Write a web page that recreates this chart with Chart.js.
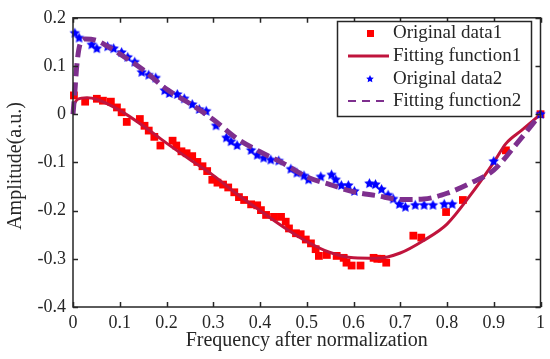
<!DOCTYPE html>
<html>
<head>
<meta charset="utf-8">
<script src="https://cdn.jsdelivr.net/npm/chart.js@4/dist/chart.umd.min.js"></script>
<style>
  html, body { margin: 0; padding: 0; background: #fff; }
  #wrap { width: 550px; height: 359px; }
</style>
</head>
<body>
<div id="wrap"><canvas id="fitChart"></canvas></div>
<script>
var data1X = [0.002,0.026,0.051,0.064,0.081,0.094,0.104,0.115,0.143,0.153,0.162,0.174,0.187,0.213,0.221,0.232,0.243,0.255,0.266,0.277,0.287,0.298,0.309,0.321,0.332,0.345,0.355,0.366,0.381,0.394,0.402,0.413,0.430,0.445,0.455,0.462,0.477,0.487,0.498,0.509,0.519,0.526,0.543,0.564,0.579,0.585,0.596,0.615,0.643,0.651,0.660,0.670,0.728,0.745,0.798,0.834,0.926,1.0];
var data1Y = [0.039,0.026,0.032,0.028,0.026,0.014,0.004,-0.016,-0.010,-0.024,-0.034,-0.047,-0.065,-0.055,-0.065,-0.077,-0.081,-0.087,-0.099,-0.108,-0.118,-0.136,-0.142,-0.146,-0.152,-0.162,-0.172,-0.178,-0.187,-0.189,-0.199,-0.209,-0.213,-0.213,-0.223,-0.237,-0.247,-0.249,-0.260,-0.268,-0.280,-0.294,-0.292,-0.294,-0.298,-0.308,-0.314,-0.314,-0.298,-0.300,-0.300,-0.308,-0.252,-0.256,-0.203,-0.178,-0.075,0.0];

var data2X = [0.004,0.013,0.040,0.051,0.074,0.087,0.104,0.117,0.132,0.147,0.162,0.177,0.196,0.206,0.223,0.238,0.255,0.270,0.285,0.306,0.328,0.338,0.351,0.381,0.394,0.408,0.423,0.440,0.466,0.479,0.494,0.504,0.530,0.553,0.562,0.574,0.589,0.602,0.634,0.647,0.660,0.674,0.685,0.698,0.711,0.732,0.751,0.770,0.794,0.811,0.900,1.0];
var data2Y = [0.168,0.158,0.144,0.136,0.140,0.136,0.128,0.118,0.108,0.087,0.081,0.075,0.049,0.043,0.041,0.032,0.020,0.010,0.006,-0.024,-0.049,-0.057,-0.065,-0.075,-0.085,-0.091,-0.095,-0.097,-0.114,-0.122,-0.128,-0.136,-0.130,-0.126,-0.136,-0.148,-0.148,-0.160,-0.144,-0.146,-0.156,-0.168,-0.176,-0.187,-0.193,-0.189,-0.189,-0.189,-0.187,-0.187,-0.098,0.0];

var fit1X = [0,0.01,0.03,0.05,0.1,0.15,0.2,0.25,0.3,0.35,0.4,0.45,0.5,0.55,0.6,0.65,0.7,0.75,0.8,0.85,0.9,0.926,0.96,1.0];
var fit1Y = [0.018,0.031,0.034,0.031,0.008,-0.024,-0.06,-0.094,-0.127,-0.165,-0.2,-0.234,-0.264,-0.287,-0.298,-0.299,-0.288,-0.262,-0.228,-0.168,-0.1,-0.061,-0.033,0.0];

var fit2X = [0,0.004,0.008,0.015,0.026,0.05,0.072,0.1,0.15,0.2,0.25,0.3,0.35,0.4,0.45,0.5,0.55,0.6,0.65,0.7,0.75,0.8,0.85,0.9,0.95,1.0];
var fit2Y = [0,0.047,0.1,0.145,0.156,0.153,0.142,0.125,0.092,0.052,0.022,-0.011,-0.05,-0.078,-0.102,-0.13,-0.146,-0.161,-0.169,-0.177,-0.176,-0.164,-0.143,-0.116,-0.06,0.0];

var xTicks = [0,0.1,0.2,0.3,0.4,0.5,0.6,0.7,0.8,0.9,1];
var yTicks = [-0.4,-0.3,-0.2,-0.1,0,0.1,0.2];

var labels = ["Original data1", "Fitting function1", "Original data2", "Fitting function2"];
var xTitle = 'Frequency after normalization';
var yTitle = 'Amplitude(a.u.)';

var inkColor = '#262626';
var serif = "'Liberation Serif', 'Times New Roman', serif";

function pairs(xs, ys) {
    return xs.map(function(x, i) { return {x: x, y: ys[i]}; });
}

// filled pentagram marker
function makeStar(r, color) {
    var c = document.createElement('canvas');
    var s = Math.ceil(r * 2 + 2);
    c.width = s; c.height = s;
    var cx = c.getContext('2d');
    cx.fillStyle = color;
    cx.beginPath();
    for (var i = 0; i < 10; i++) {
        var rad = (i % 2 === 0) ? r : r * 0.5;
        var a = -Math.PI / 2 + i * Math.PI / 5;
        var px = s / 2 + rad * Math.cos(a), py = s / 2 + rad * Math.sin(a);
        if (i === 0) cx.moveTo(px, py); else cx.lineTo(px, py);
    }
    cx.closePath();
    cx.fill();
    return c;
}
var starBig = makeStar(5.5, '#0000ff');
var starSmall = makeStar(4, '#0000ff');

// box + inward ticks, matlab style
var boxPlugin = {
    id: 'boxTicks',
    afterDatasetsDraw: function(chart) {
        var ctx = chart.ctx, a = chart.chartArea;
        var xs = chart.scales.x, ys = chart.scales.y;
        ctx.save();
        ctx.strokeStyle = inkColor;
        ctx.lineWidth = 1.5;
        ctx.strokeRect(a.left, a.top, a.right - a.left, a.bottom - a.top);
        ctx.beginPath();
        xTicks.forEach(function(v) {
            var p = Math.round(xs.getPixelForValue(v)) + 0.5;
            ctx.moveTo(p, a.bottom); ctx.lineTo(p, a.bottom - 5);
            ctx.moveTo(p, a.top); ctx.lineTo(p, a.top + 5);
        });
        yTicks.forEach(function(v) {
            var p = Math.round(ys.getPixelForValue(v)) + 0.5;
            ctx.moveTo(a.left, p); ctx.lineTo(a.left + 5, p);
            ctx.moveTo(a.right, p); ctx.lineTo(a.right - 5, p);
        });
        ctx.stroke();

        // y axis title, sits a bit below the axis middle in the original
        ctx.fillStyle = inkColor;
        ctx.font = '20px ' + serif;
        ctx.textAlign = 'center';
        ctx.textBaseline = 'middle';
        ctx.translate(16, 166);
        ctx.rotate(-Math.PI / 2);
        ctx.fillText(yTitle, 0, 0);
        ctx.restore();
    }
};

// legend box in the upper right corner
var legendPlugin = {
    id: 'boxLegend',
    afterDraw: function(chart) {
        var ctx = chart.ctx;
        var bx = 337, by = 21, bw = 194, bh = 95;
        ctx.save();
        ctx.fillStyle = '#fff';
        ctx.fillRect(bx, by, bw, bh);
        ctx.strokeStyle = inkColor;
        ctx.lineWidth = 1.5;
        ctx.strokeRect(bx + 0.5, by + 0.5, bw, bh);

        var rows = [33, 56, 79, 101];
        var mx = 370;
        // data1 marker
        ctx.fillStyle = '#ff0000';
        ctx.fillRect(mx - 3, rows[0] - 3, 7, 7);
        // fit1 line
        ctx.strokeStyle = '#c0143c';
        ctx.lineWidth = 3;
        ctx.beginPath(); ctx.moveTo(348, rows[1]); ctx.lineTo(389, rows[1]); ctx.stroke();
        // data2 marker
        ctx.drawImage(starSmall, mx - starSmall.width / 2, rows[2] - starSmall.height / 2);
        // fit2 line
        ctx.strokeStyle = '#7e2f8e';
        ctx.lineWidth = 2;
        ctx.setLineDash([8, 6]);
        ctx.beginPath(); ctx.moveTo(348, rows[3]); ctx.lineTo(389, rows[3]); ctx.stroke();
        ctx.setLineDash([]);

        ctx.fillStyle = inkColor;
        ctx.font = '19px ' + serif;
        ctx.textBaseline = 'middle';
        ctx.textAlign = 'left';
        labels.forEach(function(t, i) { ctx.fillText(t, 393, rows[i]); });
        ctx.restore();
    }
};

var g = document.getElementById('fitChart').getContext('2d');

var fitChart = new Chart(g, {
    type: 'scatter',
    data: {
        datasets: [{
            label: labels[0],
            data: pairs(data1X, data1Y),
            pointStyle: 'rect',
            pointRadius: 5.5,
            pointBackgroundColor: '#ff0000',
            pointBorderWidth: 0,
            clip: false,
            order: 3
        }, {
            label: labels[1],
            data: pairs(fit1X, fit1Y),
            showLine: true,
            pointRadius: 0,
            borderColor: '#c0143c',
            borderWidth: 3,
            cubicInterpolationMode: 'monotone',
            clip: false,
            order: 2
        }, {
            label: labels[2],
            data: pairs(data2X, data2Y),
            pointStyle: starBig,
            pointRadius: 5.5,
            clip: false,
            order: 1
        }, {
            label: labels[3],
            data: pairs(fit2X, fit2Y),
            showLine: true,
            pointRadius: 0,
            borderColor: '#7e2f8e',
            borderWidth: 5,
            borderDash: [13, 6],
            cubicInterpolationMode: 'monotone',
            clip: false,
            order: 0
        }]
    },
    options: {
        responsive: true,
        maintainAspectRatio: false,
        animation: false,
        events: [],
        layout: { padding: { top: 11, right: 7, left: 0, bottom: 0 } },
        plugins: {
            legend: { display: false },
            tooltip: { enabled: false }
        },
        scales: {
            x: {
                type: 'linear',
                min: 0, max: 1,
                afterBuildTicks: function(s) { s.ticks = xTicks.map(function(v) { return {value: v}; }); },
                afterFit: function(s) { s.height = 52; },
                grid: { display: false, drawTicks: false },
                border: { display: false },
                ticks: {
                    padding: 5,
                    color: inkColor,
                    font: { family: serif, size: 18 },
                    maxRotation: 0,
                    callback: function(v) { return String(Math.round(v * 10) / 10); }
                },
                title: {
                    display: true,
                    text: xTitle,
                    color: inkColor,
                    font: { family: serif, size: 20 },
                    padding: { top: 0, bottom: 6 }
                }
            },
            y: {
                type: 'linear',
                min: -0.4, max: 0.2,
                afterBuildTicks: function(s) { s.ticks = yTicks.map(function(v) { return {value: v}; }); },
                afterFit: function(s) { s.width = 73; },
                grid: { display: false, drawTicks: false },
                border: { display: false },
                ticks: {
                    padding: 7,
                    color: inkColor,
                    font: { family: serif, size: 18 },
                    callback: function(v) { return String(Math.round(v * 10) / 10); }
                },
                title: { display: false }
            }
        }
    },
    plugins: [boxPlugin, legendPlugin]
});
</script>
</body>
</html>
